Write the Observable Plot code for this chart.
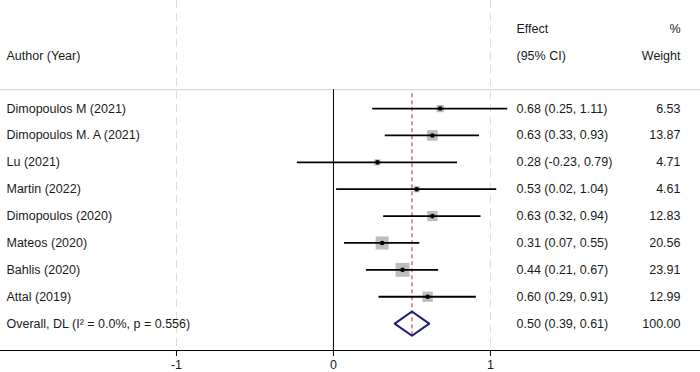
<!DOCTYPE html>
<html>
<head>
<meta charset="utf-8">
<script src="https://cdn.jsdelivr.net/npm/d3@7"></script>
<script src="https://cdn.jsdelivr.net/npm/@observablehq/plot@0.6"></script>
<style>
  html, body { margin: 0; padding: 0; background: #fff; }
</style>
</head>
<body>
<div id="chart"></div>
<script>
// Study-level estimates (effect with 95% CI) and random-effects weights
const authors = [
  "Dimopoulos M (2021)",
  "Dimopoulos M. A (2021)",
  "Lu (2021)",
  "Martin (2022)",
  "Dimopoulos (2020)",
  "Mateos (2020)",
  "Bahlis (2020)",
  "Attal (2019)"
];
const effects = [0.68, 0.63, 0.28, 0.53, 0.63, 0.31, 0.44, 0.60];
const lowerCI = [0.25, 0.33, -0.23, 0.02, 0.32, 0.07, 0.21, 0.29];
const upperCI = [1.11, 0.93, 0.79, 1.04, 0.94, 0.55, 0.67, 0.91];
const weights = [6.53, 13.87, 4.71, 4.61, 12.83, 20.56, 23.91, 12.99];

// Pooled DerSimonian-Laird estimate
const overallLabel = "Overall, DL (I\u00B2 = 0.0%, p = 0.556)";
const overallEffect = 0.50;
const overallLower = 0.39;
const overallUpper = 0.61;
const overallWeight = 100.00;

// Column headers and axis ticks
const authorHeader = ["Author (Year)"];
const effectHeader = ["Effect", "(95% CI)"];
const weightHeader = ["%", "Weight"];
const xTicks = [-1, 0, 1];

// two decimals with a plain hyphen for negatives
const fmt = v => v.toFixed(2);
const studies = authors.map((author, i) => ({
  author, row: i,
  effect: effects[i], lower: lowerCI[i], upper: upperCI[i], weight: weights[i]
}));
const overallRow = authors.length;
const rows = [...studies, {
  author: overallLabel, row: overallRow,
  effect: overallEffect, lower: overallLower, upper: overallUpper, weight: overallWeight
}];

// layout rows: headers sit above row 0, the axis sits below the pooled row
const headerRows = [-2.95, -1.97];
const topRule = -0.7;
const axisRow = 9;
const yTop = -4.02;
const halfDiamond = 0.45;

const diamond = [
  {x: overallLower, y: overallRow},
  {x: overallEffect, y: overallRow - halfDiamond},
  {x: overallUpper, y: overallRow},
  {x: overallEffect, y: overallRow + halfDiamond},
  {x: overallLower, y: overallRow}
];

const ink = "#1a1a1a";

const chart = Plot.plot({
  width: 700,
  height: 372,
  marginLeft: 0,
  marginRight: 0,
  marginTop: 0,
  marginBottom: 22,
  style: {fontFamily: "'Liberation Sans', Arial, sans-serif", fontSize: "12.5px", color: ink, background: "#fff"},
  x: {domain: [-2.121, 2.338], axis: null},
  y: {domain: [yTop, axisRow], reverse: true, axis: null},
  r: {type: "sqrt", domain: [0, 25], range: [0, 8.07]},
  marks: [
    // dashed reference gridlines
    Plot.ruleX(xTicks.filter(d => d !== 0), {y1: yTop, y2: axisRow, stroke: "#dcdcdc", strokeDasharray: "8,5"}),
    // header separator
    Plot.ruleY([topRule], {stroke: "#cfcfcf", strokeWidth: 1}),
    // line of no effect
    Plot.ruleX([0], {y1: topRule, y2: axisRow, stroke: "#000", strokeWidth: 1}),
    // pooled estimate line
    Plot.ruleX([overallEffect], {y1: topRule + 0.15, y2: overallRow + 0.55, stroke: "#b03030", strokeDasharray: "4,3", strokeWidth: 1}),
    // weight boxes
    Plot.dot(studies, {x: "effect", y: "row", r: "weight", symbol: "square", fill: "#bdbdbd", stroke: null}),
    // confidence intervals
    Plot.ruleY(studies, {y: "row", x1: "lower", x2: "upper", stroke: "#000", strokeWidth: 1.8}),
    // point estimates
    Plot.dot(studies, {x: "effect", y: "row", r: 2.3, fill: "#000", stroke: null}),
    // pooled diamond
    Plot.line(diamond, {x: "x", y: "y", stroke: "#1c1c78", strokeWidth: 2}),
    // x axis
    Plot.ruleY([axisRow], {stroke: "#000", strokeWidth: 1}),
    Plot.axisX({ticks: xTicks, tickSize: 6, tickPadding: 4, tickFormat: d => `${d}`, stroke: "#000", fontSize: 12.5}),
    // text columns
    Plot.text(authorHeader, {y: [headerRows[1]], text: d => d, frameAnchor: "left", dx: 6, textAnchor: "start", fill: ink}),
    Plot.text(effectHeader, {y: headerRows, text: d => d, frameAnchor: "right", dx: -184, textAnchor: "start", fill: ink}),
    Plot.text(weightHeader, {y: headerRows, text: d => d, frameAnchor: "right", dx: -20, textAnchor: "end", fill: ink}),
    Plot.text(rows, {y: "row", text: "author", frameAnchor: "left", dx: 6, textAnchor: "start", fill: ink}),
    Plot.text(rows, {y: "row", text: d => `${fmt(d.effect)} (${fmt(d.lower)}, ${fmt(d.upper)})`, frameAnchor: "right", dx: -184, textAnchor: "start", fill: ink}),
    Plot.text(rows, {y: "row", text: d => fmt(d.weight), frameAnchor: "right", dx: -20, textAnchor: "end", fill: ink})
  ]
});
document.getElementById("chart").appendChild(chart);
</script>
</body>
</html>
